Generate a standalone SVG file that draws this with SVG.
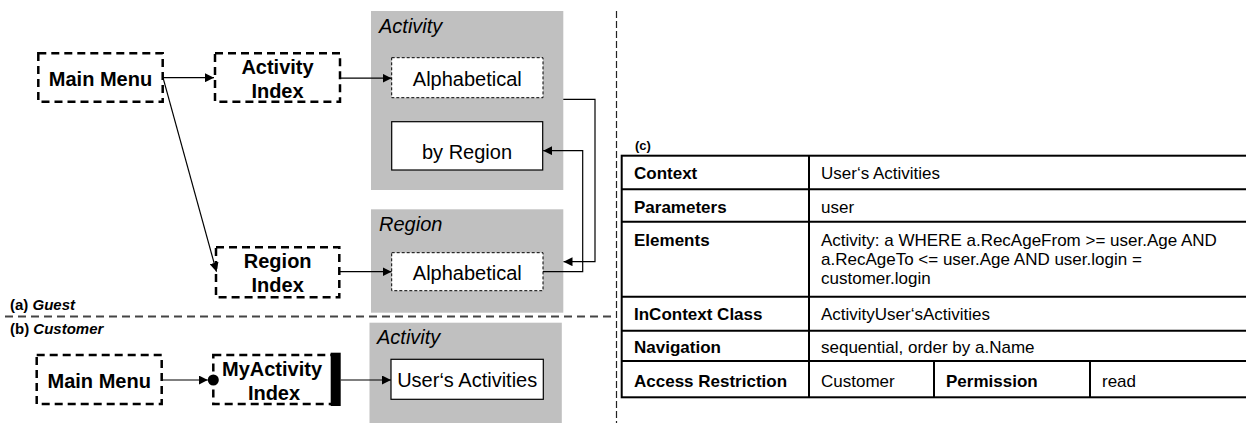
<svg xmlns="http://www.w3.org/2000/svg" width="1246" height="423" viewBox="0 0 1246 423">
<style>
.dbox{fill:#fff;stroke:#000;stroke-width:2.5;stroke-dasharray:8 5}
.dot{fill:#fff;stroke:#000;stroke-width:1;stroke-dasharray:3 2}
.solid{fill:#fff;stroke:#000;stroke-width:1.2}
.gray{fill:#c0c0c0}
.conn{fill:none;stroke:#000;stroke-width:1.2}
.arr{marker-end:url(#ah)}
text{font-family:"Liberation Sans",Arial,sans-serif;fill:#000}
.nb{font-size:20px;font-weight:bold;text-anchor:middle}
.nr{font-size:20px;text-anchor:middle}
.it{font-size:20px;font-style:italic}
.lab{font-size:15px;font-weight:bold}
.tb{font-size:17px;font-weight:bold}
.tr{font-size:17px}
.tline{stroke:#000;stroke-width:2;fill:none}
</style>
<defs>
<marker id="ah" viewBox="0 0 10 10" refX="10" refY="5" markerWidth="9" markerHeight="9" markerUnits="userSpaceOnUse" orient="auto">
<path d="M0,0 L10,5 L0,10 z" fill="#000"/>
</marker>
</defs>

<!-- separators -->
<line x1="616.5" y1="11" x2="616.5" y2="423" stroke="#222" stroke-width="1.2" stroke-dasharray="7 3"/>
<line x1="5" y1="316.5" x2="616" y2="316.5" stroke="#444" stroke-width="1.8" stroke-dasharray="8 5"/>

<!-- containers -->
<g id="container-activity-a">
<rect class="gray" x="371" y="11" width="192.3" height="179"/>
<text class="it" x="379" y="33">Activity</text>
</g>
<g id="container-region">
<rect class="gray" x="371" y="209.3" width="192.3" height="103.4"/>
<text class="it" x="379" y="230.7">Region</text>
</g>
<g id="container-activity-b">
<rect class="gray" x="369.5" y="322.7" width="192.3" height="100.3"/>
<text class="it" x="377" y="344.3">Activity</text>
</g>

<!-- labels -->
<text class="lab" x="10" y="310">(a) <tspan font-style="italic">Guest</tspan></text>
<text class="lab" x="10" y="334.3">(b) <tspan font-style="italic">Customer</tspan></text>

<!-- nodes (a) -->
<g id="main-menu-a">
<rect class="dbox" x="38.3" y="53.3" width="124.4" height="48.4"/>
<text class="nb" x="100.5" y="85.7">Main Menu</text>
</g>
<g id="activity-index">
<rect class="dbox" x="215" y="53.3" width="125" height="48.4"/>
<text class="nb" x="277.5" y="73.5">Activity</text>
<text class="nb" x="277.5" y="98">Index</text>
</g>
<g id="region-index">
<rect class="dbox" x="216" y="247.3" width="123.3" height="50"/>
<text class="nb" x="277.7" y="268.3">Region</text>
<text class="nb" x="277.7" y="292">Index</text>
</g>
<g id="activity-alphabetical">
<rect class="dot" x="391.7" y="57.7" width="151.3" height="40"/>
<text class="nr" x="467.3" y="86">Alphabetical</text>
</g>
<g id="by-region">
<rect class="solid" x="391.7" y="121.7" width="151" height="48.3"/>
<text class="nr" x="467" y="159.3">by Region</text>
</g>
<g id="region-alphabetical">
<rect class="dot" x="391.7" y="252.7" width="151.3" height="38"/>
<text class="nr" x="467.3" y="280">Alphabetical</text>
</g>

<!-- nodes (b) -->
<g id="main-menu-b">
<rect class="dbox" x="36.7" y="355" width="125" height="49"/>
<text class="nb" x="99.2" y="388">Main Menu</text>
</g>
<g id="myactivity-index">
<rect class="dbox" x="213.3" y="355" width="121.7" height="49"/>
<text class="nb" x="272" y="375.5">MyActivity</text>
<text class="nb" x="274" y="400">Index</text>
<rect x="330.7" y="352.7" width="10" height="53.3" fill="#000"/>
<circle cx="213.3" cy="380" r="5.5" fill="#000"/>
</g>
<g id="users-activities">
<rect class="solid" x="391" y="359.3" width="152.3" height="40"/>
<text class="nr" x="467.2" y="387.3">User‘s Activities</text>
</g>

<!-- connectors -->
<g id="connectors">
<line class="conn arr" x1="163" y1="77.7" x2="214" y2="77.7"/>
<line class="conn arr" x1="163" y1="77.7" x2="216.5" y2="271.7"/>
<line class="conn arr" x1="341" y1="78.2" x2="391.5" y2="78.2"/>
<line class="conn arr" x1="340" y1="271.7" x2="391.5" y2="271.7"/>
<polyline class="conn arr" points="563.3,99.3 595,99.3 595,261.7 563.5,261.7"/>
<polyline class="conn arr" points="543,271.7 582.7,271.7 582.7,150.7 543.2,150.7"/>
<line class="conn arr" x1="161.7" y1="380" x2="207.8" y2="380"/>
<line class="conn arr" x1="340.7" y1="380" x2="391" y2="380"/>
</g>

<!-- table (c) -->
<g id="table-c">
<text x="635" y="150" font-size="13" font-weight="bold">(c)</text>
<rect class="tline" x="621.7" y="155.7" width="630" height="241.6"/>
<line class="tline" x1="621.7" y1="189.3" x2="1250" y2="189.3"/>
<line class="tline" x1="621.7" y1="221.7" x2="1250" y2="221.7"/>
<line class="tline" x1="621.7" y1="296.7" x2="1250" y2="296.7"/>
<line class="tline" x1="621.7" y1="330.7" x2="1250" y2="330.7"/>
<line class="tline" x1="621.7" y1="361" x2="1250" y2="361"/>
<line class="tline" x1="809" y1="155.7" x2="809" y2="397.3"/>
<line class="tline" x1="934" y1="361" x2="934" y2="397.3"/>
<line class="tline" x1="1090" y1="361" x2="1090" y2="397.3"/>
<text class="tb" x="634" y="179">Context</text>
<text class="tr" x="821" y="179">User‘s Activities</text>
<text class="tb" x="634" y="212.7">Parameters</text>
<text class="tr" x="821" y="212.7">user</text>
<text class="tb" x="634" y="246">Elements</text>
<text class="tr" x="821" y="246">Activity: a WHERE a.RecAgeFrom &gt;= user.Age AND</text>
<text class="tr" x="821" y="265">a.RecAgeTo &lt;= user.Age AND user.login =</text>
<text class="tr" x="821" y="284">customer.login</text>
<text class="tb" x="634" y="320">InContext Class</text>
<text class="tr" x="821" y="320">ActivityUser‘sActivities</text>
<text class="tb" x="634" y="353.3">Navigation</text>
<text class="tr" x="821" y="353.3">sequential, order by a.Name</text>
<text class="tb" x="634" y="387.3">Access Restriction</text>
<text class="tr" x="821" y="387.3">Customer</text>
<text class="tb" x="946" y="387.3">Permission</text>
<text class="tr" x="1102" y="387.3">read</text>
</g>
</svg>
